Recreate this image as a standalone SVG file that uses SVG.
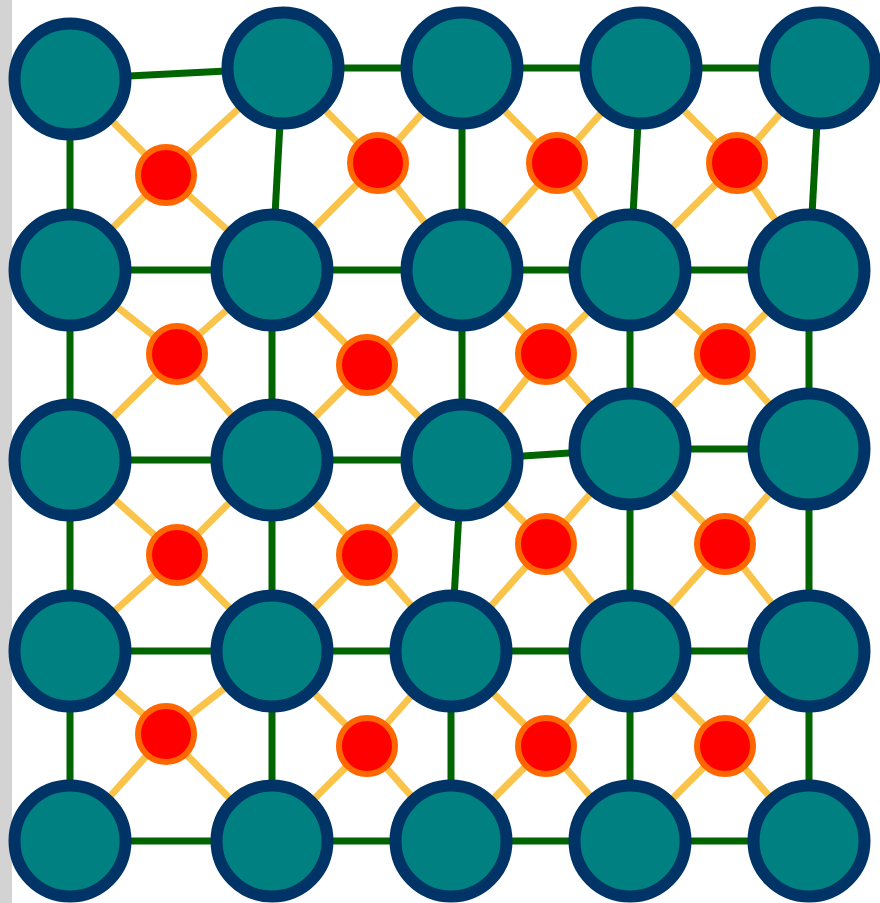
<svg xmlns="http://www.w3.org/2000/svg" width="880" height="903" viewBox="0 0 880 903">
<style>
.e{stroke:#006400;stroke-width:7;fill:none}
.y{stroke:#fac44a;stroke-width:7;fill:none}
.n{fill:#008080;stroke:#003366;stroke-width:12}
.r{fill:#ff0000;stroke:#ff6600;stroke-width:6}
</style>
<rect x="0" y="0" width="880" height="903" fill="#ffffff"/>
<rect x="0" y="0" width="12" height="903" fill="#d3d3d3"/>
<g id="connectors">
<g id="grid-edges">
<line class="e" x1="70" y1="79" x2="283" y2="68"/>
<line class="e" x1="283" y1="68" x2="462" y2="68"/>
<line class="e" x1="462" y1="68" x2="641" y2="68"/>
<line class="e" x1="641" y1="68" x2="820" y2="68"/>
<line class="e" x1="70" y1="270" x2="272" y2="270"/>
<line class="e" x1="272" y1="270" x2="462" y2="270"/>
<line class="e" x1="462" y1="270" x2="630" y2="270"/>
<line class="e" x1="630" y1="270" x2="809" y2="270"/>
<line class="e" x1="70" y1="460" x2="272" y2="460"/>
<line class="e" x1="272" y1="460" x2="462" y2="460"/>
<line class="e" x1="462" y1="460" x2="630" y2="449"/>
<line class="e" x1="630" y1="449" x2="809" y2="449"/>
<line class="e" x1="70" y1="651" x2="272" y2="651"/>
<line class="e" x1="272" y1="651" x2="451" y2="651"/>
<line class="e" x1="451" y1="651" x2="630" y2="651"/>
<line class="e" x1="630" y1="651" x2="809" y2="651"/>
<line class="e" x1="70" y1="841" x2="272" y2="841"/>
<line class="e" x1="272" y1="841" x2="451" y2="841"/>
<line class="e" x1="451" y1="841" x2="630" y2="841"/>
<line class="e" x1="630" y1="841" x2="809" y2="841"/>
<line class="e" x1="70" y1="79" x2="70" y2="270"/>
<line class="e" x1="283" y1="68" x2="272" y2="270"/>
<line class="e" x1="462" y1="68" x2="462" y2="270"/>
<line class="e" x1="641" y1="68" x2="630" y2="270"/>
<line class="e" x1="820" y1="68" x2="809" y2="270"/>
<line class="e" x1="70" y1="270" x2="70" y2="460"/>
<line class="e" x1="272" y1="270" x2="272" y2="460"/>
<line class="e" x1="462" y1="270" x2="462" y2="460"/>
<line class="e" x1="630" y1="270" x2="630" y2="449"/>
<line class="e" x1="809" y1="270" x2="809" y2="449"/>
<line class="e" x1="70" y1="460" x2="70" y2="651"/>
<line class="e" x1="272" y1="460" x2="272" y2="651"/>
<line class="e" x1="462" y1="460" x2="451" y2="651"/>
<line class="e" x1="630" y1="449" x2="630" y2="651"/>
<line class="e" x1="809" y1="449" x2="809" y2="651"/>
<line class="e" x1="70" y1="651" x2="70" y2="841"/>
<line class="e" x1="272" y1="651" x2="272" y2="841"/>
<line class="e" x1="451" y1="651" x2="451" y2="841"/>
<line class="e" x1="630" y1="651" x2="630" y2="841"/>
<line class="e" x1="809" y1="651" x2="809" y2="841"/>
</g>
<g id="red-edges">
<line class="y" x1="166" y1="175" x2="70" y2="79"/><line class="y" x1="166" y1="175" x2="283" y2="68"/><line class="y" x1="166" y1="175" x2="70" y2="270"/><line class="y" x1="166" y1="175" x2="272" y2="270"/>
<line class="y" x1="378" y1="163" x2="283" y2="68"/><line class="y" x1="378" y1="163" x2="462" y2="68"/><line class="y" x1="378" y1="163" x2="272" y2="270"/><line class="y" x1="378" y1="163" x2="462" y2="270"/>
<line class="y" x1="557" y1="163" x2="462" y2="68"/><line class="y" x1="557" y1="163" x2="641" y2="68"/><line class="y" x1="557" y1="163" x2="462" y2="270"/><line class="y" x1="557" y1="163" x2="630" y2="270"/>
<line class="y" x1="737" y1="163" x2="641" y2="68"/><line class="y" x1="737" y1="163" x2="820" y2="68"/><line class="y" x1="737" y1="163" x2="630" y2="270"/><line class="y" x1="737" y1="163" x2="809" y2="270"/>
<line class="y" x1="177" y1="354" x2="70" y2="270"/><line class="y" x1="177" y1="354" x2="272" y2="270"/><line class="y" x1="177" y1="354" x2="70" y2="460"/><line class="y" x1="177" y1="354" x2="272" y2="460"/>
<line class="y" x1="367" y1="365" x2="272" y2="270"/><line class="y" x1="367" y1="365" x2="462" y2="270"/><line class="y" x1="367" y1="365" x2="272" y2="460"/><line class="y" x1="367" y1="365" x2="462" y2="460"/>
<line class="y" x1="546" y1="354" x2="462" y2="270"/><line class="y" x1="546" y1="354" x2="630" y2="270"/><line class="y" x1="546" y1="354" x2="462" y2="460"/><line class="y" x1="546" y1="354" x2="630" y2="449"/>
<line class="y" x1="725" y1="354" x2="630" y2="270"/><line class="y" x1="725" y1="354" x2="809" y2="270"/><line class="y" x1="725" y1="354" x2="630" y2="449"/><line class="y" x1="725" y1="354" x2="809" y2="449"/>
<line class="y" x1="177" y1="555" x2="70" y2="460"/><line class="y" x1="177" y1="555" x2="272" y2="460"/><line class="y" x1="177" y1="555" x2="70" y2="651"/><line class="y" x1="177" y1="555" x2="272" y2="651"/>
<line class="y" x1="367" y1="555" x2="272" y2="460"/><line class="y" x1="367" y1="555" x2="462" y2="460"/><line class="y" x1="367" y1="555" x2="272" y2="651"/><line class="y" x1="367" y1="555" x2="451" y2="651"/>
<line class="y" x1="546" y1="544" x2="462" y2="460"/><line class="y" x1="546" y1="544" x2="630" y2="449"/><line class="y" x1="546" y1="544" x2="451" y2="651"/><line class="y" x1="546" y1="544" x2="630" y2="651"/>
<line class="y" x1="725" y1="544" x2="630" y2="449"/><line class="y" x1="725" y1="544" x2="809" y2="449"/><line class="y" x1="725" y1="544" x2="630" y2="651"/><line class="y" x1="725" y1="544" x2="809" y2="651"/>
<line class="y" x1="166" y1="734" x2="70" y2="651"/><line class="y" x1="166" y1="734" x2="272" y2="651"/><line class="y" x1="166" y1="734" x2="70" y2="841"/><line class="y" x1="166" y1="734" x2="272" y2="841"/>
<line class="y" x1="367" y1="746" x2="272" y2="651"/><line class="y" x1="367" y1="746" x2="451" y2="651"/><line class="y" x1="367" y1="746" x2="272" y2="841"/><line class="y" x1="367" y1="746" x2="451" y2="841"/>
<line class="y" x1="546" y1="746" x2="451" y2="651"/><line class="y" x1="546" y1="746" x2="630" y2="651"/><line class="y" x1="546" y1="746" x2="451" y2="841"/><line class="y" x1="546" y1="746" x2="630" y2="841"/>
<line class="y" x1="725" y1="746" x2="630" y2="651"/><line class="y" x1="725" y1="746" x2="809" y2="651"/><line class="y" x1="725" y1="746" x2="630" y2="841"/><line class="y" x1="725" y1="746" x2="809" y2="841"/>
</g>
</g>
<g id="n11"><circle class="n" cx="70" cy="79" r="55.5"/></g>
<g id="n12"><circle class="n" cx="283" cy="68" r="55.5"/></g>
<g id="n13"><circle class="n" cx="462" cy="68" r="55.5"/></g>
<g id="n14"><circle class="n" cx="641" cy="68" r="55.5"/></g>
<g id="n15"><circle class="n" cx="820" cy="68" r="55.5"/></g>
<g id="n21"><circle class="n" cx="70" cy="270" r="55.5"/></g>
<g id="n22"><circle class="n" cx="272" cy="270" r="55.5"/></g>
<g id="n23"><circle class="n" cx="462" cy="270" r="55.5"/></g>
<g id="n24"><circle class="n" cx="630" cy="270" r="55.5"/></g>
<g id="n25"><circle class="n" cx="809" cy="270" r="55.5"/></g>
<g id="n31"><circle class="n" cx="70" cy="460" r="55.5"/></g>
<g id="n32"><circle class="n" cx="272" cy="460" r="55.5"/></g>
<g id="n33"><circle class="n" cx="462" cy="460" r="55.5"/></g>
<g id="n34"><circle class="n" cx="630" cy="449" r="55.5"/></g>
<g id="n35"><circle class="n" cx="809" cy="449" r="55.5"/></g>
<g id="n41"><circle class="n" cx="70" cy="651" r="55.5"/></g>
<g id="n42"><circle class="n" cx="272" cy="651" r="55.5"/></g>
<g id="n43"><circle class="n" cx="451" cy="651" r="55.5"/></g>
<g id="n44"><circle class="n" cx="630" cy="651" r="55.5"/></g>
<g id="n45"><circle class="n" cx="809" cy="651" r="55.5"/></g>
<g id="n51"><circle class="n" cx="70" cy="841" r="55.5"/></g>
<g id="n52"><circle class="n" cx="272" cy="841" r="55.5"/></g>
<g id="n53"><circle class="n" cx="451" cy="841" r="55.5"/></g>
<g id="n54"><circle class="n" cx="630" cy="841" r="55.5"/></g>
<g id="n55"><circle class="n" cx="809" cy="841" r="55.5"/></g>
<g id="r11"><circle class="r" cx="166" cy="175" r="28"/></g>
<g id="r12"><circle class="r" cx="378" cy="163" r="28"/></g>
<g id="r13"><circle class="r" cx="557" cy="163" r="28"/></g>
<g id="r14"><circle class="r" cx="737" cy="163" r="28"/></g>
<g id="r21"><circle class="r" cx="177" cy="354" r="28"/></g>
<g id="r22"><circle class="r" cx="367" cy="365" r="28"/></g>
<g id="r23"><circle class="r" cx="546" cy="354" r="28"/></g>
<g id="r24"><circle class="r" cx="725" cy="354" r="28"/></g>
<g id="r31"><circle class="r" cx="177" cy="555" r="28"/></g>
<g id="r32"><circle class="r" cx="367" cy="555" r="28"/></g>
<g id="r33"><circle class="r" cx="546" cy="544" r="28"/></g>
<g id="r34"><circle class="r" cx="725" cy="544" r="28"/></g>
<g id="r41"><circle class="r" cx="166" cy="734" r="28"/></g>
<g id="r42"><circle class="r" cx="367" cy="746" r="28"/></g>
<g id="r43"><circle class="r" cx="546" cy="746" r="28"/></g>
<g id="r44"><circle class="r" cx="725" cy="746" r="28"/></g>
</svg>
